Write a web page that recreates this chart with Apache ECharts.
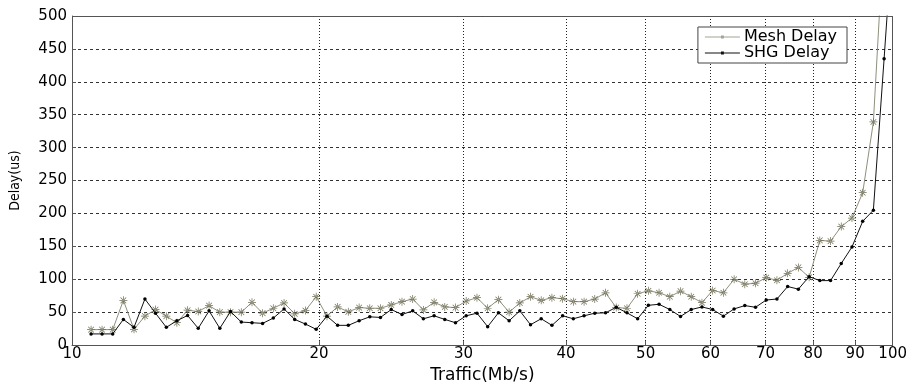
<!DOCTYPE html>
<html>
<head>
<meta charset="utf-8">
<script src="https://cdn.jsdelivr.net/npm/echarts@6/dist/echarts.min.js"></script>
<style>
  html, body { margin: 0; padding: 0; background: #fff; }
  #chart { width: 910px; height: 389px; }
</style>
</head>
<body>
<div id="chart"></div>
<script>
// Offered traffic (Mb/s) for each measurement point
const traffic = [
  10.55, 10.88, 11.21, 11.55, 11.90, 12.27, 12.64, 13.03, 13.42, 13.83,
  14.25, 14.69, 15.14, 15.60, 16.08, 16.57, 17.07, 17.59, 18.13, 18.68,
  19.25, 19.84, 20.45, 21.07, 21.71, 22.38, 23.06, 23.76, 24.49, 25.24,
  26.01, 26.80, 27.62, 28.46, 29.33, 30.22, 31.15, 32.10, 33.08, 34.09,
  35.13, 36.20, 37.30, 38.44, 39.61, 40.82, 42.07, 43.35, 44.68, 46.04,
  47.45, 48.89, 50.39, 51.92, 53.51, 55.14, 56.82, 58.56, 60.35, 62.19,
  64.09, 66.04, 68.06, 70.13, 72.27, 74.48, 76.75, 79.10, 81.51, 84.00,
  86.56, 89.20, 91.93, 94.73, 97.62, 100.6
];

// Mean delay (us) of the mesh network
const meshDelay = [
  23.5, 23.5, 23.5, 68, 24, 44, 54, 44, 34, 53,
  51, 60, 50, 50, 50, 65, 48.5, 56, 64, 47.5,
  52.5, 73.5, 44, 58, 50.5, 57, 56, 56, 61, 66,
  70, 53.5, 65, 58, 57, 67, 72, 56, 69, 50,
  64, 73.5, 68, 72, 70.5, 66, 66, 70, 79.5, 57,
  56, 78, 82.5, 79.5, 73.5, 82, 73.5, 64.5, 83, 79.5,
  100, 92.5, 94, 102.5, 98.5, 109, 118, 103, 159, 158,
  180, 193, 231.5, 339, 630, 900
];

// Mean delay (us) with SHG
const shgDelay = [
  17, 17, 17, 39, 27, 70, 48.5, 27, 37, 45,
  25.5, 52, 25.5, 51, 35, 34, 33, 41, 55, 39,
  32, 24, 44, 30, 30, 37, 43, 42, 54, 46.5,
  52, 40, 44.5, 39, 34, 44.5, 48.5, 28, 49, 37,
  52, 31, 40, 30, 44.5, 40, 44.5, 48.5, 49, 57.5,
  49, 40, 60.5, 62, 54, 43.5, 54, 58, 54, 44,
  55, 60, 57.5, 68.5, 70, 89, 85, 104, 98, 98,
  124, 149, 188, 205, 435, 670
];

// Axis ticks
const xTicks = [10, 20, 30, 40, 50, 60, 70, 80, 90, 100];
const yTicks = [0, 50, 100, 150, 200, 250, 300, 350, 400, 450, 500];

const pairs = (xs, ys) => xs.map((x, i) => [x, ys[i]]);

// Eight-armed asterisk marker
const asterisk = 'path://' +
  'M-0.9,-10L0.9,-10L0.9,10L-0.9,10Z' +
  'M-10,-0.9L10,-0.9L10,0.9L-10,0.9Z' +
  'M6.43,7.71L7.71,6.43L-6.43,-7.71L-7.71,-6.43Z' +
  'M7.71,-6.43L6.43,-7.71L-7.71,6.43L-6.43,7.71Z';

// Legend key: a thin line with a small marker in its middle
const legendKey = 'path://M0,4.6L36,4.6L36,5.4L0,5.4Z M16.5,3.5L19.5,3.5L19.5,6.5L16.5,6.5Z';

const tickFont = "'DejaVu Sans', Verdana, sans-serif";
const narrow = "'Liberation Sans Narrow', 'DejaVu Sans Condensed', Arial, sans-serif";

const chart = echarts.init(document.getElementById('chart'), null, { renderer: 'canvas' });
chart.setOption({
  animation: false,
  backgroundColor: '#ffffff',
  grid: { left: 68, right: 17, top: 16, bottom: 32, show: false },
  legend: {
    right: 63, top: 27,
    orient: 'vertical',
    backgroundColor: '#ffffff',
    borderColor: '#444444', borderWidth: 1,
    padding: [2, 10, 2, 7],
    itemGap: 0,
    itemWidth: 35, itemHeight: 4,
    textStyle: { fontFamily: tickFont, fontSize: 16, color: '#000', padding: [0, 0, 0, -1] },
    data: [
      { name: 'Mesh Delay', icon: legendKey, itemStyle: { color: '#a3a393' } },
      { name: 'SHG Delay', icon: legendKey, itemStyle: { color: '#111111' } }
    ]
  },
  xAxis: {
    type: 'log', logBase: 10, min: 10, max: 100,
    name: 'Traffic(Mb/s)', nameLocation: 'middle', nameGap: 16,
    nameTextStyle: { fontFamily: tickFont, fontSize: 17, color: '#000' },
    axisLine: { show: true, onZero: false, lineStyle: { color: '#555', width: 1 } },
    axisTick: { show: true, inside: true, length: 4, customValues: xTicks, lineStyle: { color: '#555' } },
    axisLabel: { customValues: xTicks, fontFamily: tickFont, fontSize: 15, color: '#000', margin: 2, formatter: v => String(Math.round(v)) },
    splitLine: { show: true, lineStyle: { color: '#222', type: [1, 2], width: 1 } },
    minorTick: { show: false }, minorSplitLine: { show: false }
  },
  yAxis: {
    type: 'value', min: 0, max: 500, interval: 50,
    name: 'Delay(us)', nameLocation: 'middle', nameGap: 50, nameRotate: 90,
    nameTextStyle: { fontFamily: narrow, fontSize: 14, color: '#000' },
    axisLine: { show: true, lineStyle: { color: '#555', width: 1 } },
    axisTick: { show: true, inside: true, length: 4, lineStyle: { color: '#555' } },
    axisLabel: { fontFamily: tickFont, fontSize: 15, color: '#000', margin: 5 },
    splitLine: { show: true, lineStyle: { color: '#333', type: [3, 3], width: 1 } }
  },
  series: [
    {
      name: 'Mesh Delay', type: 'line', clip: true,
      data: pairs(traffic, meshDelay),
      symbol: asterisk, symbolSize: 8,
      lineStyle: { color: '#8f8f7c', width: 1 },
      itemStyle: { color: '#6f6f55' },
      z: 3
    },
    {
      name: 'SHG Delay', type: 'line', clip: true,
      data: pairs(traffic, shgDelay),
      symbol: 'circle', symbolSize: 3.5,
      lineStyle: { color: '#111', width: 1 },
      itemStyle: { color: '#000' },
      z: 4
    },
    {
      // frame on the top and right of the plotting area
      type: 'line', silent: true, data: [], symbol: 'none',
      markLine: {
        silent: true, symbol: 'none', label: { show: false },
        lineStyle: { color: '#555', type: 'solid', width: 1 },
        data: [
          [{ coord: [10, 500] }, { coord: [100, 500] }],
          [{ coord: [100, 0] }, { coord: [100, 500] }]
        ]
      }
    }
  ]
});
</script>
</body>
</html>
